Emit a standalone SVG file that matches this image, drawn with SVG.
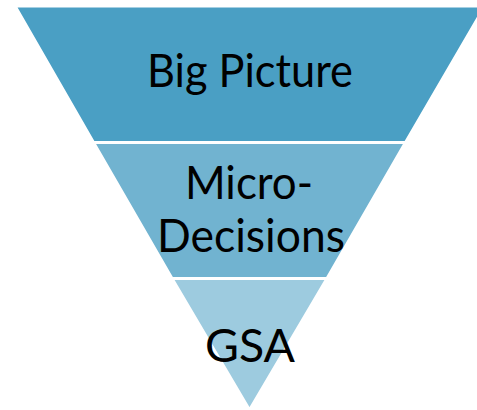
<svg xmlns="http://www.w3.org/2000/svg" width="477" height="410" viewBox="0 0 477 410">
<style>
.band{stroke:#ffffff;stroke-width:3;stroke-linejoin:miter}
.lbl{font-family:Lato,"Open Sans","Liberation Sans",sans-serif;font-size:46px;fill:#000000;text-anchor:middle}
</style>
<rect width="477" height="410" fill="#ffffff"/>
<g id="big-picture">
<polygon class="band" points="15,6 485,6 405.5,142.5 93.5,142.5" fill="#4A9FC4"/>
<text class="lbl" x="250" y="87" textLength="206" lengthAdjust="spacingAndGlyphs">Big Picture</text>
</g>
<g id="micro-decisions">
<polygon class="band" points="93.5,142.5 405.5,142.5 327,278.5 172,278.5" fill="#71B3D0"/>
<text class="lbl" x="249" y="199" textLength="128" lengthAdjust="spacingAndGlyphs">Micro-</text>
<text class="lbl" x="251" y="252" textLength="188" lengthAdjust="spacingAndGlyphs">Decisions</text>
</g>
<g id="gsa">
<polygon class="band" points="172,278.5 327,278.5 249.5,410" fill="#9DCBDF"/>
<text class="lbl" x="250" y="362" textLength="90" lengthAdjust="spacingAndGlyphs">GSA</text>
</g>
<g id="connectors"></g>
</svg>
